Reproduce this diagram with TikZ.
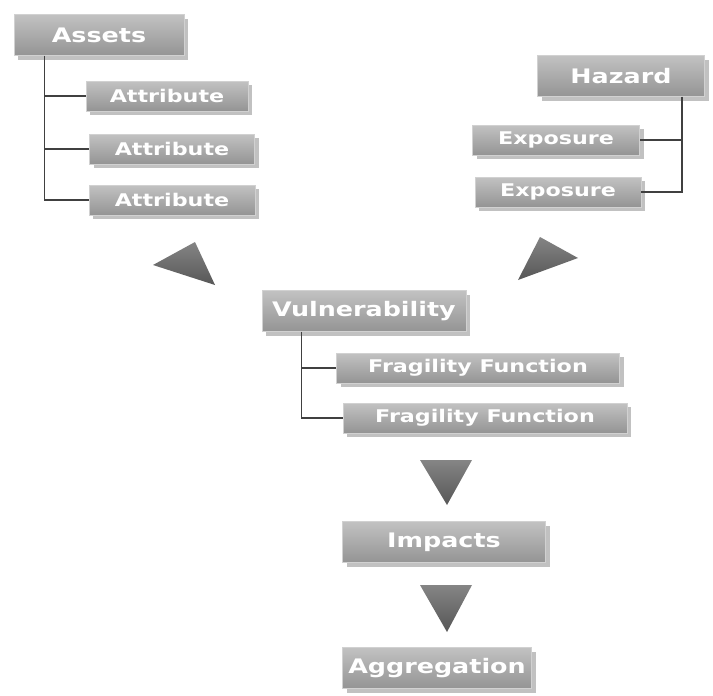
\documentclass[tikz,border=0pt]{standalone}
\usepackage{fontspec}
\setsansfont{DejaVu Sans}[FakeStretch=1.27]
\usetikzlibrary{shadows}

\tikzset{
  box/.style={rectangle, inner sep=0pt, top color=black!24, bottom color=black!42,
    draw=black!18, line width=0.6pt, text=white,
    drop shadow={shadow xshift=4pt, shadow yshift=-4pt, fill=black!35, opacity=.7}},
  bigbox/.style={box, minimum height=41pt, font=\sffamily\bfseries\fontsize{20}{24}\selectfont},
  smallbox/.style={box, minimum height=30pt, font=\sffamily\bfseries\fontsize{17.5}{21}\selectfont},
  conn/.style={draw=black!75, line width=1.4pt},
  tri/.style={top color=black!48, bottom color=black!66, draw=none}
}

\begin{document}
\begin{tikzpicture}[x=1pt,y=-1pt]
\useasboundingbox (0,0) rectangle (713,696);

% assets branch
\node[bigbox, minimum width=170pt] (assets) at (99,35) {Assets};
\node[smallbox, minimum width=162pt] (attr1) at (167,96) {Attribute};
\node[smallbox, minimum width=165pt] (attr2) at (172,149) {Attribute};
\node[smallbox, minimum width=166pt] (attr3) at (172,200) {Attribute};
\coordinate (atrunk) at ([xshift=31pt]assets.south west);
\draw[conn] (atrunk) |- (attr1.west);
\draw[conn] (atrunk) |- (attr2.west);
\draw[conn] (atrunk) |- (attr3.west);

% hazard branch
\node[bigbox, minimum width=167pt] (hazard) at (621,76) {Hazard};
\node[smallbox, minimum width=167pt] (expo1) at (556,140) {Exposure};
\node[smallbox, minimum width=166pt] (expo2) at (558,192) {Exposure};
\coordinate (htrunk) at ([xshift=-23pt]hazard.south east);
\draw[conn] (htrunk) |- (expo1.east);
\draw[conn] (htrunk) |- (expo2.east);

% vulnerability
\node[bigbox, minimum width=204pt] (vuln) at (364,311) {Vulnerability};
\node[smallbox, minimum width=283pt] (frag1) at (478,368) {Fragility Function};
\node[smallbox, minimum width=284pt] (frag2) at (485,418) {Fragility Function};
\coordinate (vtrunk) at ([xshift=40pt]vuln.south west);
\draw[conn] (vtrunk) |- (frag1.west);
\draw[conn] (vtrunk) |- (frag2.west);

\node[bigbox, minimum width=203pt] (impacts) at (444,542) {Impacts};
\node[bigbox, minimum width=189pt] (aggr) at (437,668) {Aggregation};

% arrow heads
\shade[tri] (153,265) -- (195,242) -- (215,285) -- cycle;
\shade[tri] (518,280) -- (540,237) -- (578,258) -- cycle;
\shade[tri] (420,460) -- (472,460) -- (447,505) -- cycle;
\shade[tri] (420,585) -- (472,585) -- (447,632) -- cycle;

\end{tikzpicture}
\end{document}
